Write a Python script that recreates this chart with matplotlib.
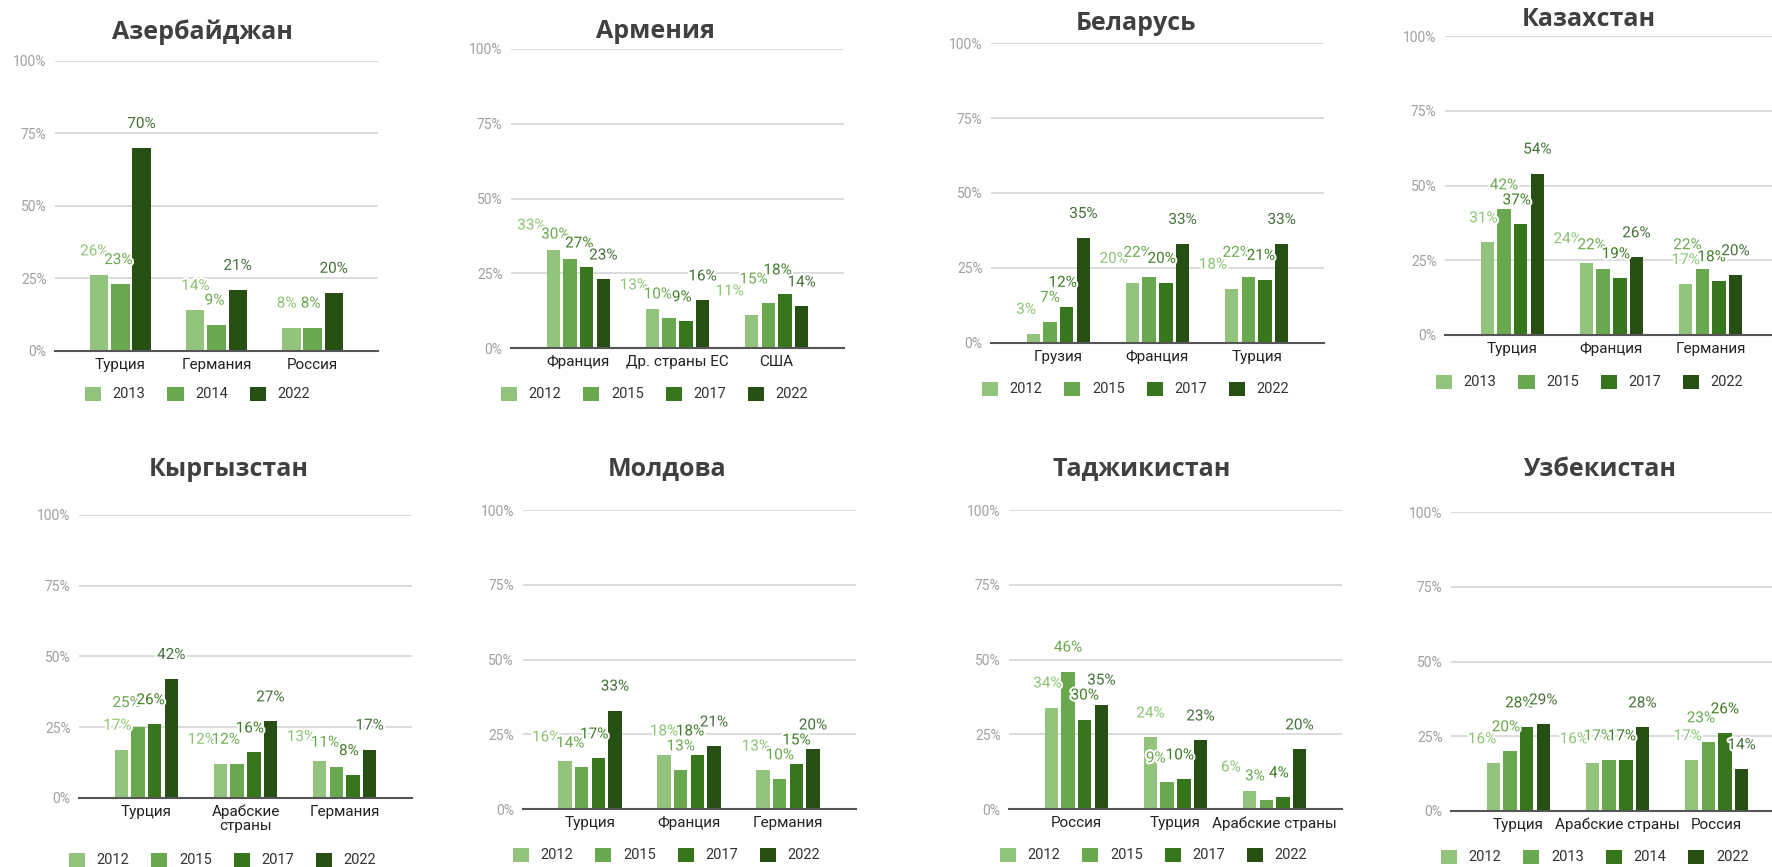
import matplotlib
matplotlib.use('Agg')
import matplotlib.pyplot as plt
from matplotlib import patheffects
from matplotlib.patches import Patch
from matplotlib.ticker import PercentFormatter
import numpy as np

W, H = 1772, 867

# bar colours (Google Sheets greens) and their label colours
bar_colors = ['#93c47d', '#6aa84f', '#38761d', '#274e13']
text_colors = ['#8cc474', '#6aa84f', '#3f7d26', '#44703a']

# ---- data: share of respondents, % ----
az_countries = ['Турция', 'Германия', 'Россия']
az_years = ['2013', '2014', '2022']
az_values = [[26, 14, 8], [23, 9, 8], [70, 21, 20]]

am_countries = ['Франция', 'Др. страны ЕС', 'США']
am_years = ['2012', '2015', '2017', '2022']
am_values = [[33, 13, 11], [30, 10, 15], [27, 9, 18], [23, 16, 14]]

by_countries = ['Грузия', 'Франция', 'Турция']
by_years = ['2012', '2015', '2017', '2022']
by_values = [[3, 20, 18], [7, 22, 22], [12, 20, 21], [35, 33, 33]]

kz_countries = ['Турция', 'Франция', 'Германия']
kz_years = ['2013', '2015', '2017', '2022']
kz_values = [[31, 24, 17], [42, 22, 22], [37, 19, 18], [54, 26, 20]]

kg_countries = ['Турция', 'Арабские\nстраны', 'Германия']
kg_years = ['2012', '2015', '2017', '2022']
kg_values = [[17, 12, 13], [25, 12, 11], [26, 16, 8], [42, 27, 17]]

md_countries = ['Турция', 'Франция', 'Германия']
md_years = ['2012', '2015', '2017', '2022']
md_values = [[16, 18, 13], [14, 13, 10], [17, 18, 15], [33, 21, 20]]

tj_countries = ['Россия', 'Турция', 'Арабские страны']
tj_years = ['2012', '2015', '2017', '2022']
tj_values = [[34, 24, 6], [46, 9, 3], [30, 10, 4], [35, 23, 20]]

uz_countries = ['Турция', 'Арабские страны', 'Россия']
uz_years = ['2012', '2013', '2014', '2022']
uz_values = [[16, 16, 17], [20, 17, 23], [28, 17, 26], [29, 28, 14]]

# ---- layout in pixels: axes box (left, top, right, bottom), title centre, legend start ----
panels = [
    ('Азербайджан', az_countries, az_years, az_values, [0, 1, 3],
     (55, 61, 378, 350.7), (202, 32), (85, 394), 0.19, 0.22),
    ('Армения', am_countries, am_years, am_values, [0, 1, 2, 3],
     (511, 49, 844, 348.3), (655, 32), (501, 394), 0.135, 0.168),
    ('Беларусь', by_countries, by_years, by_values, [0, 1, 2, 3],
     (991, 43.3, 1324, 342.7), (1136, 23), (982, 389), 0.135, 0.168),
    ('Казахстан', kz_countries, kz_years, kz_values, [0, 1, 2, 3],
     (1445, 36, 1778, 335), (1589, 20), (1436, 382), 0.135, 0.168),
    ('Кыргызстан', kg_countries, kg_years, kg_values, [0, 1, 2, 3],
     (79, 515, 412, 797.7), (229, 469), (69, 860), 0.135, 0.168),
    ('Молдова', md_countries, md_years, md_values, [0, 1, 2, 3],
     (522.5, 510, 855.5, 809.3), (667, 469), (513, 855), 0.135, 0.168),
    ('Таджикистан', tj_countries, tj_years, tj_values, [0, 1, 2, 3],
     (1009, 510, 1342, 809.3), (1142, 469), (1000, 855), 0.135, 0.168),
    ('Узбекистан', uz_countries, uz_years, uz_values, [0, 1, 2, 3],
     (1451, 512.3, 1784, 811), (1600, 469), (1441, 857), 0.135, 0.168),
]

plt.rcParams['font.family'] = ['Roboto', 'DejaVu Sans']

fig = plt.figure(figsize=(W / 100, H / 100), dpi=100)
fig.patch.set_facecolor('white')

halo = [patheffects.withStroke(linewidth=3, foreground='white')]
LIFT = 24      # label centre above bar top, px
HALF_W = 13    # half label width, px
MIN_DX = 24    # min distance between neighbouring labels at same height, px
SAME_Y = 12    # labels closer than this vertically count as colliding, px


def label_shifts(ax, x, values, offs, bw):
    # shift labels left (right-to-left pass) when they run into the next label or bar
    shifts = np.zeros((len(values), len(x)))
    for k, xc in enumerate(x):
        pts = []
        for i in range(len(values)):
            px, py = ax.transData.transform((xc + offs[i], values[i][k]))
            left = ax.transData.transform((xc + offs[i] - bw / 2, 0))[0]
            pts.append((px, py, left))
        placed = [None] * len(values)
        for i in range(len(values) - 1, -1, -1):
            px, py, _ = pts[i]
            lx, ly = px, py + LIFT
            if i + 1 < len(values):
                nx, ny = placed[i + 1]
                if abs(ly - ny) < SAME_Y and nx - lx < MIN_DX:
                    lx = nx - MIN_DX
                bx, btop, bleft = pts[i + 1]
                if ly - 7 < btop and lx + HALF_W > bleft:
                    lx = min(lx, bleft - 1 - HALF_W)
            placed[i] = (lx, ly)
            shifts[i, k] = lx - px
    return shifts


for (title, cats, years, values, cidx, box, tpos, lpos, bw, step) in panels:
    l, t, r, b = box
    ax = fig.add_axes([l / W, 1 - b / H, (r - l) / W, (b - t) / H])
    x = np.arange(len(cats))
    n = len(years)
    ax.set_xlim(-0.68, 2.68)
    ax.set_ylim(0, 100)
    offs = [(i - (n - 1) / 2) * step for i in range(n)]
    shifts = label_shifts(ax, x, values, offs, bw)

    handles = []
    for i, (yr, vals) in enumerate(zip(years, values)):
        ax.bar(x + offs[i], vals, width=bw, color=bar_colors[cidx[i]], zorder=2)
        for k, v in enumerate(vals):
            ax.annotate(f'{v}%', (x[k] + offs[i], v),
                        xytext=(shifts[i, k] * 0.72, LIFT * 0.72), textcoords='offset points',
                        ha='center', va='center', fontsize=11,
                        color=text_colors[cidx[i]], path_effects=halo, zorder=4)
        handles.append(Patch(facecolor=bar_colors[cidx[i]], edgecolor='none'))

    ax.set_yticks([0, 25, 50, 75, 100])
    ax.yaxis.set_major_formatter(PercentFormatter(100, decimals=0))
    ax.set_xticks(x)
    ax.set_xticklabels(cats, fontsize=11, color='#222222')
    for lab in ax.get_xticklabels():
        lab.set_linespacing(1.0)
    ax.tick_params(axis='y', length=0, pad=6, labelsize=10, labelcolor='#a0a0a0')
    ax.tick_params(axis='x', length=0, pad=5)
    ax.yaxis.grid(True, color='#d9d9d9', lw=1.3)
    ax.set_axisbelow(True)
    for s in ['top', 'right', 'left']:
        ax.spines[s].set_visible(False)
    ax.spines['bottom'].set_color('#555555')
    ax.spines['bottom'].set_linewidth(1.5)
    ax.spines['bottom'].set_zorder(3)

    fig.text(tpos[0] / W, 1 - tpos[1] / H, title, ha='center', va='center',
             fontsize=18, fontweight='bold', family=['Open Sans', 'DejaVu Sans'],
             color='#404040')

    ax.legend(handles, years, ncol=n, loc='center left',
              bbox_to_anchor=(lpos[0] / W, 1 - lpos[1] / H), bbox_transform=fig.transFigure,
              frameon=False, fontsize=10.5, handlelength=1.1, handleheight=1.1,
              handletextpad=0.8, columnspacing=1.5, borderpad=0, borderaxespad=0,
              labelcolor='#333333')

fig.savefig('out.png', dpi=100, facecolor='white')
